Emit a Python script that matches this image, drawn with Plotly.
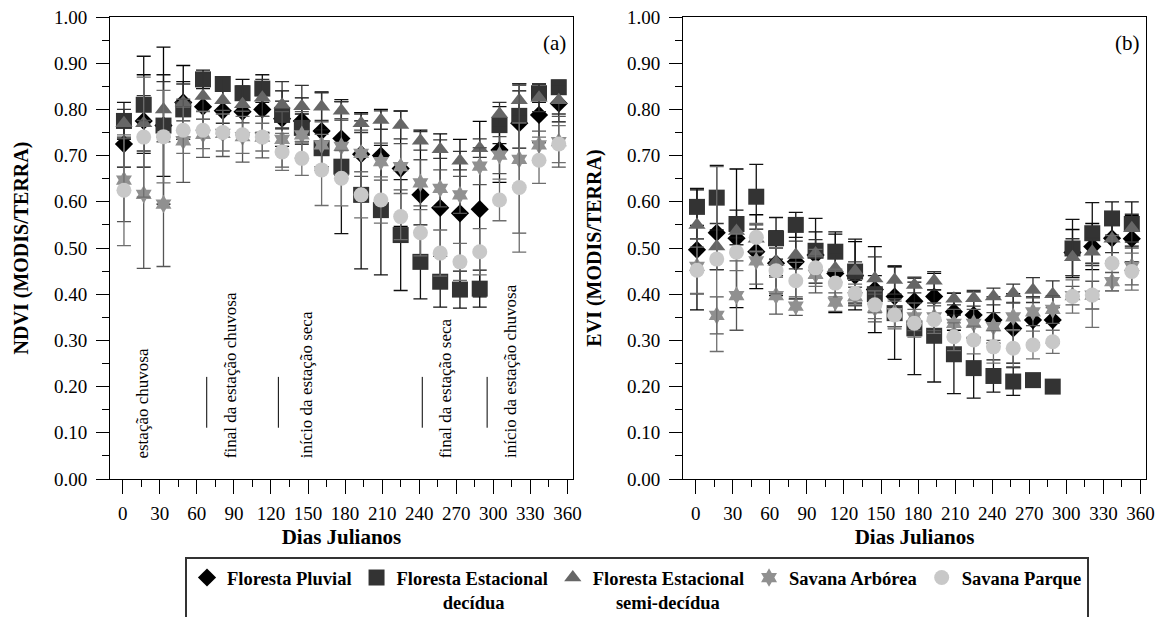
import plotly.graph_objects as go
from plotly.subplots import make_subplots

days = [1, 17, 33, 49, 65, 81, 97, 113, 129, 145, 161, 177, 193, 209, 225, 241, 257, 273, 289, 305, 321, 337, 353]

# NDVI (panel a)
ndvi_pluvial = [0.725, 0.775, 0.765, 0.815, 0.806, 0.797, 0.795, 0.800, 0.780, 0.775, 0.753, 0.737, 0.703, 0.700, 0.672, 0.615, 0.587, 0.575, 0.584, 0.712, 0.770, 0.788, 0.813]
ndvi_pluvial_err = [0.05, 0.10, 0.17, 0.08, 0.05, 0.05, 0.05, 0.05, 0.06, 0.05, 0.085, 0.08, 0.09, 0.10, 0.125, 0.14, 0.16, 0.16, 0.19, 0.07, 0.07, 0.06, 0.04]
ndvi_decidua = [0.775, 0.810, 0.765, 0.800, 0.865, 0.855, 0.835, 0.845, 0.788, 0.760, 0.716, 0.676, 0.615, 0.582, 0.528, 0.470, 0.427, 0.410, 0.412, 0.766, 0.786, 0.835, 0.848]
ndvi_decidua_err = [0.04, 0.105, 0.11, 0.06, 0.02, 0.015, 0.03, 0.03, 0.03, 0.03, 0.04, 0.145, 0.16, 0.14, 0.12, 0.08, 0.055, 0.04, 0.04, 0.04, 0.07, 0.02, 0.015]
ndvi_semidec = [0.770, 0.770, 0.800, 0.815, 0.829, 0.820, 0.811, 0.825, 0.810, 0.807, 0.806, 0.797, 0.770, 0.777, 0.766, 0.732, 0.714, 0.689, 0.716, 0.790, 0.820, 0.825, 0.820]
ndvi_semidec_err = [0.03, 0.06, 0.06, 0.04, 0.05, 0.05, 0.04, 0.04, 0.05, 0.045, 0.03, 0.02, 0.02, 0.02, 0.03, 0.02, 0.02, 0.02, 0.02, 0.025, 0.035, 0.03, 0.03]
ndvi_arborea = [0.647, 0.616, 0.595, 0.732, 0.746, 0.748, 0.741, 0.740, 0.735, 0.745, 0.723, 0.720, 0.705, 0.687, 0.676, 0.641, 0.629, 0.615, 0.677, 0.701, 0.692, 0.723, 0.730]
ndvi_arborea_err = [0.09, 0.16, 0.135, 0.09, 0.05, 0.05, 0.055, 0.045, 0.06, 0.05, 0.05, 0.06, 0.05, 0.04, 0.05, 0.05, 0.04, 0.04, 0.04, 0.04, 0.16, 0.03, 0.055]
ndvi_parque = [0.625, 0.740, 0.741, 0.755, 0.755, 0.750, 0.745, 0.740, 0.708, 0.694, 0.669, 0.651, 0.615, 0.604, 0.568, 0.533, 0.489, 0.470, 0.492, 0.604, 0.631, 0.690, 0.725]
ndvi_parque_err = [0.12, 0.13, 0.10, 0.05, 0.04, 0.04, 0.04, 0.03, 0.04, 0.037, 0.077, 0.06, 0.05, 0.05, 0.05, 0.05, 0.05, 0.04, 0.05, 0.045, 0.14, 0.05, 0.04]

# EVI (panel b)
evi_pluvial = [0.496, 0.533, 0.521, 0.492, 0.467, 0.470, 0.485, 0.445, 0.440, 0.410, 0.395, 0.385, 0.395, 0.362, 0.355, 0.344, 0.326, 0.344, 0.344, 0.490, 0.503, 0.521, 0.520]
evi_pluvial_err = [0.13, 0.08, 0.15, 0.08, 0.07, 0.08, 0.05, 0.085, 0.074, 0.093, 0.065, 0.05, 0.05, 0.04, 0.05, 0.05, 0.075, 0.05, 0.05, 0.05, 0.05, 0.05, 0.05]
evi_decidua = [0.589, 0.609, 0.552, 0.611, 0.521, 0.550, 0.494, 0.492, 0.449, 0.400, 0.359, 0.326, 0.310, 0.270, 0.240, 0.223, 0.211, 0.214, 0.200, 0.499, 0.532, 0.564, 0.552]
evi_decidua_err = [0.04, 0.07, 0.03, 0.07, 0.045, 0.027, 0.07, 0.043, 0.07, 0.04, 0.10, 0.10, 0.10, 0.085, 0.065, 0.035, 0.03, 0.01, 0.01, 0.063, 0.066, 0.036, 0.048]
evi_semidec = [0.550, 0.503, 0.537, 0.520, 0.470, 0.485, 0.488, 0.456, 0.450, 0.434, 0.431, 0.420, 0.429, 0.390, 0.391, 0.395, 0.402, 0.409, 0.400, 0.480, 0.492, 0.520, 0.543]
evi_semidec_err = [0.03, 0.05, 0.03, 0.03, 0.03, 0.03, 0.03, 0.03, 0.02, 0.047, 0.031, 0.017, 0.02, 0.013, 0.017, 0.018, 0.02, 0.027, 0.029, 0.04, 0.03, 0.03, 0.03]
evi_arborea = [0.460, 0.354, 0.397, 0.472, 0.397, 0.374, 0.443, 0.383, 0.395, 0.370, 0.360, 0.351, 0.351, 0.337, 0.337, 0.330, 0.351, 0.362, 0.367, 0.397, 0.398, 0.427, 0.460]
evi_arborea_err = [0.06, 0.04, 0.075, 0.05, 0.04, 0.02, 0.04, 0.02, 0.02, 0.03, 0.03, 0.03, 0.03, 0.03, 0.03, 0.03, 0.03, 0.03, 0.03, 0.02, 0.03, 0.02, 0.04]
evi_parque = [0.452, 0.476, 0.491, 0.523, 0.451, 0.429, 0.457, 0.424, 0.402, 0.377, 0.355, 0.337, 0.345, 0.308, 0.301, 0.286, 0.283, 0.290, 0.297, 0.395, 0.398, 0.467, 0.449]
evi_parque_err = [0.05, 0.20, 0.04, 0.03, 0.05, 0.04, 0.04, 0.03, 0.02, 0.03, 0.03, 0.03, 0.03, 0.03, 0.03, 0.035, 0.04, 0.03, 0.025, 0.036, 0.07, 0.06, 0.04]

NB = "\u00a0"
series_names = [
    "Floresta Pluvial",
    "Floresta Estacional<br>" + NB * 10 + "decídua",
    "Floresta Estacional<br>" + NB * 5 + "semi-decídua",
    "Savana Arbórea",
    "Savana Parque",
]
x_ticks = [0, 30, 60, 90, 120, 150, 180, 210, 240, 270, 300, 330, 360]
y_ticks = [0.0, 0.1, 0.2, 0.3, 0.4, 0.5, 0.6, 0.7, 0.8, 0.9, 1.0]

season_labels = ["estação chuvosa", "final da estação chuvosa", "início da estação seca",
                 "final da estação seca", "início da estação chuvosa"]
season_label_days = [16, 87, 149, 261, 313.5]
season_divider_days = [68, 126, 242.5, 295]

styles = [
    dict(symbol="diamond", size=14, color="#000000", ecolor="#000000"),
    dict(symbol="square", size=16, color="#333333", ecolor="#111111"),
    dict(symbol="triangle-up", size=15, color="#666666", ecolor="#333333"),
    dict(symbol="hexagram", size=14, color="#909090", ecolor="#555555"),
    dict(symbol="circle", size=15, color="#c8c8c8", ecolor="#6e6e6e"),
]

ndvi_vals = [ndvi_pluvial, ndvi_decidua, ndvi_semidec, ndvi_arborea, ndvi_parque]
ndvi_errs = [ndvi_pluvial_err, ndvi_decidua_err, ndvi_semidec_err, ndvi_arborea_err, ndvi_parque_err]
evi_vals = [evi_pluvial, evi_decidua, evi_semidec, evi_arborea, evi_parque]
evi_errs = [evi_pluvial_err, evi_decidua_err, evi_semidec_err, evi_arborea_err, evi_parque_err]

FONT = "Liberation Serif"

fig = make_subplots(rows=1, cols=2, horizontal_spacing=0.1062)

for col, (vals, errs) in enumerate([(ndvi_vals, ndvi_errs), (evi_vals, evi_errs)], start=1):
    for i in range(5):
        st = styles[i]
        fig.add_trace(go.Scatter(
            x=days, y=vals[i], mode="markers", name=series_names[i],
            showlegend=(col == 1),
            marker=dict(symbol=st["symbol"], size=st["size"], color=st["color"], line=dict(width=0)),
            error_y=dict(type="data", array=errs[i], color=st["ecolor"], thickness=1.3, width=7),
        ), row=1, col=col)

axis_common = dict(showline=True, linecolor="black", linewidth=1, mirror=True,
                   showgrid=False, zeroline=False, ticks="outside", tickcolor="black",
                   tickfont=dict(family=FONT, size=19, color="black"))

for col in (1, 2):
    fig.update_xaxes(range=[-10.3, 364.5], tickvals=x_ticks, ticklen=14, ticklabelstandoff=3,
                     minor=dict(dtick=15, tick0=0, ticklen=7, ticks="outside", tickcolor="black"),
                     title=dict(text="<b>Dias Julianos</b>", font=dict(family=FONT, size=21, color="black"), standoff=6),
                     row=1, col=col, **axis_common)
    fig.update_yaxes(range=[0, 1], tickvals=y_ticks, tickformat=".2f", ticklen=13, ticklabelstandoff=5,
                     minor=dict(dtick=0.05, tick0=0, ticklen=7, ticks="outside", tickcolor="black"),
                     row=1, col=col, **axis_common)

fig.update_yaxes(title=dict(text="<b>NDVI (MODIS/TERRA)</b>", font=dict(family=FONT, size=20, color="black"), standoff=19), row=1, col=1)
fig.update_yaxes(title=dict(text="<b>EVI (MODIS/TERRA)</b>", font=dict(family=FONT, size=20, color="black"), standoff=19), row=1, col=2)

annotations = []
for txt, d in zip(season_labels, season_label_days):
    annotations.append(dict(x=d, y=0.041, xref="x", yref="y", text=txt, textangle=-90,
                            showarrow=False, xanchor="center", yanchor="bottom",
                            font=dict(family=FONT, size=17, color="black")))
annotations.append(dict(x=0.961, y=0.944, xref="x domain", yref="y domain", text="(a)", showarrow=False,
                        xanchor="center", yanchor="middle", font=dict(family=FONT, size=21, color="black")))
annotations.append(dict(x=0.961, y=0.944, xref="x2 domain", yref="y2 domain", text="(b)", showarrow=False,
                        xanchor="center", yanchor="middle", font=dict(family=FONT, size=21, color="black")))

shapes = []
for d in season_divider_days:
    shapes.append(dict(type="line", xref="x", yref="y", x0=d, x1=d, y0=0.111, y1=0.221,
                       line=dict(color="black", width=1)))

fig.update_layout(
    width=1159, height=617,
    margin=dict(l=110, r=13, t=17, b=138, autoexpand=False),
    paper_bgcolor="white", plot_bgcolor="white",
    font=dict(family=FONT, color="black"),
    annotations=annotations, shapes=shapes,
    legend=dict(orientation="h", x=0.0724, y=-0.1688, xanchor="left", yanchor="top",
                bordercolor="#333333", borderwidth=2, valign="top", traceorder="normal",
                font=dict(family=FONT, size=18.5, color="black", weight="bold"),
                itemwidth=30),
)

fig.write_html("out.html")
